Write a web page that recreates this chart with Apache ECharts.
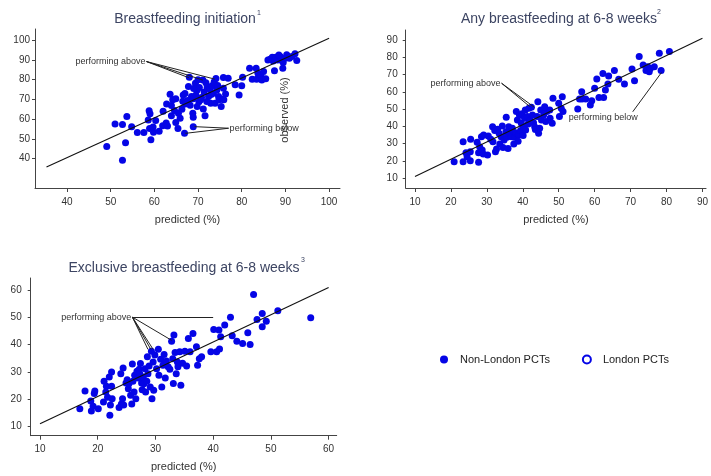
<!DOCTYPE html>
<html><head><meta charset="utf-8">
<script src="https://cdn.jsdelivr.net/npm/echarts@6/dist/echarts.min.js"></script>
<style>html,body{margin:0;padding:0;background:#fff}#c{width:711px;height:476px}</style>
</head><body><div id="c"></div>
<script>
// ---- data: [predicted, observed] ----
const initiationPoints = [[49.1,46.1],[51,57.6],[52.7,57.3],[52.7,39.2],[53.4,48.1],[53.7,61.3],[54.8,56.1],[56.1,53.2],[57.6,53.2],[58.6,59.6],[58.8,64.2],[59,62.7],[58.9,55.2],[59.2,49.5],[59.8,53.4],[59.7,56],[60.3,59.3],[61.1,53.9],[61.9,56.6],[62.7,58],[62.8,67.7],[63.6,72.6],[63.9,66.9],[63.9,61.7],[64.2,69.8],[64.6,64.4],[64.9,58.3],[64.9,70.3],[65.4,55.2],[65.9,60.5],[66.3,65],[66.5,69.1],[66.6,72.3],[66.9,52.9],[67.1,67.7],[67.6,69.4],[67.8,76.5],[68,81.2],[68.2,67.1],[68.5,71.5],[68.8,63],[68.9,61],[68.9,56.2],[68.9,70.3],[69.4,78.2],[69.5,72.3],[69.8,74.8],[69.8,66.4],[70.2,68.8],[70.3,76],[70.6,69.8],[71.1,79.9],[71.4,73.8],[71.6,61.7],[71.8,78.5],[72.1,76.2],[72.4,71.5],[72.7,75.2],[72.9,68.1],[73.2,76.9],[73.5,73.1],[73.7,79],[73.9,68.1],[74.1,80.6],[74.3,74.8],[74.7,71.5],[74.8,69.8],[75.3,66.4],[75.6,70.1],[75.8,75.7],[75.8,81.1],[75.9,69.8],[76.9,80.7],[78.5,77.4],[79.4,72.3],[80,76.9],[80.2,81.3],[81.8,85.8],[82.4,80.2],[83.3,85.8],[83.7,83.3],[83.4,80.2],[84.4,82.4],[84.6,79.9],[85,84.1],[86.5,90.4],[87,91.4],[87.2,89.5],[87.5,84.5],[87.8,91.4],[88.2,90],[88.8,91.7],[89.2,89.7],[89.4,85.8],[89.5,88.7],[89.9,90.9],[90.3,92.6],[90.9,90.9],[91.5,91.7],[92.2,93.1],[92.6,89.7],[86,90],[71.2,65.2],[72,69],[63,56.5],[65.5,63],[67,73],[70.8,71],[73,72.5],[74.5,77],[69,75.5],[70,80],[62,64],[88.5,92.5],[85.5,80.5],[76.3,72.7]];
const any68Points = [[20.9,19.6],[23.4,19.6],[23.4,31.2],[24.2,24.8],[24.5,22.5],[25.4,25.4],[25.4,20.2],[25.5,32.6],[27.3,30.8],[27.7,24.8],[27.7,19.3],[28,28.3],[28.5,34.1],[28.7,26.4],[29,24.1],[29.1,35.1],[30.2,23.5],[30.4,34.5],[31.6,39.9],[31.7,31.2],[32.2,37.6],[32.4,25.4],[32.7,27],[33,38.4],[33.4,36],[33.6,29.9],[34,34.1],[34.3,40.3],[34.5,27.9],[34.8,32.2],[35.3,37],[35.4,45.3],[35.6,33.7],[35.9,27.3],[36.1,39.9],[36.5,36],[36.8,34.1],[37.1,38.9],[37.5,29.9],[37.7,33.7],[38,36.4],[38.2,48.6],[38.5,43.7],[38.8,35.1],[39.1,46.5],[39.4,37.6],[39.6,41.8],[39.8,47.4],[40.1,34.7],[40.2,39.9],[40.5,44.7],[40.7,49.5],[40.8,38],[41.3,45.7],[41.5,41.4],[41.7,50.5],[42.1,43.7],[42.4,51.1],[42.7,46.6],[43,42.2],[43.3,39.9],[43.5,38.3],[44,45.7],[44.2,54.3],[44.4,36],[44.7,38.9],[45,49.5],[45.2,43.7],[45.8,46.6],[46.4,42.8],[46.7,48.6],[47.5,49.5],[47.6,44.7],[48.2,41.8],[48.4,56.3],[50,53.4],[50.2,45.7],[50.7,50.5],[51,57.2],[51.2,48.6],[55.3,50.1],[55.8,55.9],[56.4,60.1],[56.5,55.9],[57.5,55.9],[58.8,52.4],[59.2,54.9],[60,62.1],[60.6,67.4],[61.2,56.7],[62.3,70.7],[62.5,56.8],[63,61.1],[63.7,64.6],[63.9,69.2],[65.5,72.3],[66.7,67.3],[68.3,64.6],[70.4,73.2],[71.1,66.5],[72.4,80.4],[73.5,75.5],[74.3,72.3],[74.8,74.6],[75.2,71.7],[75.5,73.6],[76.6,74.6],[78,82.3],[78.5,72.3],[80.8,83.3],[31.1,32.6],[38.7,31.4],[46.1,51.4]];
const excl68Points = [[16.9,16.6],[17.8,23.1],[18.8,19.4],[18.9,15.7],[19.2,17.5],[19.4,22.1],[19.5,23.1],[20.1,16.6],[21,19],[21.1,26.6],[21.4,22.7],[21.5,24.8],[21.7,20.8],[22,28.2],[22.1,14.2],[22.2,17.9],[22.4,30],[22.4,24.8],[22.5,20.2],[23.7,17],[24,29.4],[24.1,18.3],[24.3,20.2],[24.4,31.5],[24.5,17.9],[24.9,26],[25.1,27.2],[25.3,23.9],[25.4,25.7],[25.7,21.5],[25.9,18.3],[26,32.9],[26.1,26.6],[26.3,22.7],[26.4,28.8],[26.6,20.2],[26.8,30.3],[27,27.8],[27.2,31],[27.3,29.4],[27.4,33.1],[27.6,26],[27.7,23.5],[27.9,28.2],[28,25.7],[28.2,31.2],[28.3,22.7],[28.5,26.6],[28.6,35.6],[28.7,29.4],[28.9,32.2],[29.1,24.5],[29.3,37.6],[29.4,20.2],[29.6,33.7],[29.7,23.3],[29.9,36.2],[30.2,31.2],[30.5,38.3],[30.6,28.8],[30.9,34.7],[31.1,24.5],[31.3,32.5],[31.5,36.4],[31.7,27.8],[31.9,34],[32.2,31.9],[32.5,31],[32.8,41.3],[33,34.9],[33.1,25.8],[33.2,43.5],[33.4,37.1],[33.6,29.4],[33.8,33.7],[33.9,31.9],[34.2,37.4],[34.4,25.2],[34.7,33.2],[35.1,37.6],[35.4,32.2],[35.7,42.3],[36,37.4],[36.5,44.1],[37.1,39.2],[37.3,32.5],[37.6,34.9],[38,35.6],[39.6,37.4],[40.1,45.6],[40.6,37.4],[41,45.4],[41.1,38.4],[41.3,42.9],[42,47.2],[43.3,43.3],[43,50],[44.1,41.3],[45.1,40.4],[46,44.4],[46.4,40.1],[47,58.4],[47.6,49.2],[48.5,51.4],[48.5,46.6],[49.2,48.6],[51.2,52.4],[56.9,49.9]];
const londonPoints = [];

// reference lines (observed = predicted)
const fitInitiation = [[35.3,35.8],[100,101]];
const fitAny68 = [[10,11],[90,91]];
const fitExcl68 = [[10,11.1],[60,60.9]];

// tick labels
const ticksInitiation = [40,50,60,70,80,90,100];
const ticksAny68 = [10,20,30,40,50,60,70,80,90];
const ticksExcl68 = [10,20,30,40,50,60];

// titles and labels
const panelTitles = ['Breastfeeding initiation','Any breastfeeding at 6-8 weeks','Exclusive breastfeeding at 6-8 weeks'];
const panelNotes = ['1','2','3'];
const xAxisTitle = 'predicted (%)';
const yAxisTitle = 'observed (%)';
const seriesNames = ['Non-London PCTs','London PCTs'];
const labelAbove = 'performing above';
const labelBelow = 'performing below';

// annotations (data coordinates)
const initAboveFrom = [58.2,89.2];
const initAboveTo = [[67.9,81.0],[71.1,79.8],[73.8,80.3]];
const initBelowFrom = [77,55.4];
const initBelowTo = [[69.2,56.2],[67.1,52.8]];
const anyAboveFrom = [34.1,65];
const anyAboveTo = [[41.9,51.6],[43.1,51.3]];
const anyBelowText = [52.5,45.3];
const anyBelowFrom = [70.6,48.5];
const anyBelowTo = [[78.6,71.2]];
const exclAboveFrom = [26,50.1];
const exclAboveTo = [[28.7,38.3],[29.2,38.3],[29.6,38.3],[32.8,41.6],[40,50.1]];

const BLUE = '#0505e6';
const AX = '#444';
const FONT = '"Liberation Sans", Arial, sans-serif';

function xAxisFor(gi, min, max, ticks){
  return {gridIndex:gi, type:'value', min:min, max:max,
    name:xAxisTitle, nameLocation:'middle', nameGap:26,
    nameTextStyle:{fontSize:11, color:'#333', fontFamily:FONT},
    axisLine:{show:true, onZero:false, lineStyle:{color:AX, width:1}},
    axisTick:{show:true, length:4, customValues:ticks, lineStyle:{color:AX}},
    axisLabel:{customValues:ticks, fontSize:10, color:'#333', margin:9, fontFamily:FONT},
    splitLine:{show:false}};
}
function yAxisFor(gi, min, max, ticks, margin){
  return {gridIndex:gi, type:'value', min:min, max:max,
    axisLine:{show:true, onZero:false, lineStyle:{color:AX, width:1}},
    axisTick:{show:true, length:3, customValues:ticks, lineStyle:{color:AX}},
    axisLabel:{customValues:ticks, fontSize:10, color:'#333', margin:margin, fontFamily:FONT},
    splitLine:{show:false}};
}
function segs(from, tos){ return tos.map(t => [{coord:from},{coord:t}]); }
function note(coord, text, pos){
  return {coord:coord, name:text, symbolSize:0, label:{show:true, position:pos, distance:1, formatter:'{b}', fontSize:9, color:'#333', fontFamily:FONT}};
}
function scatter(gi, pts){
  return {name:seriesNames[0], type:'scatter', xAxisIndex:gi, yAxisIndex:gi, data:pts,
    symbol:'circle', symbolSize:7, itemStyle:{color:BLUE, opacity:1}, z:2, animation:false};
}
function fitLine(gi, pts, lines, notes){
  return {type:'line', xAxisIndex:gi, yAxisIndex:gi, data:pts, showSymbol:false, silent:true,
    lineStyle:{color:'#111', width:1.1}, z:3, animation:false,
    markLine:{silent:true, symbol:['none','none'], label:{show:false}, animation:false,
      lineStyle:{color:'#222', width:1, type:'solid'}, data:lines},
    markPoint:{silent:true, symbol:'circle', symbolSize:0, animation:false, itemStyle:{color:'transparent'}, data:notes}};
}

const chart = echarts.init(document.getElementById('c'), null, {renderer:'canvas'});
chart.setOption({
  backgroundColor:'#fff',
  animation:false,
  grid:[
    {left:35, top:29, width:305, height:159},
    {left:405.7, top:30, width:301, height:158},
    {left:30.7, top:278, width:306, height:157.7}
  ],
  xAxis:[
    xAxisFor(0, 32.67, 102.5, ticksInitiation),
    xAxisFor(1, 7.42, 91.0, ticksAny68),
    xAxisFor(2, 8.39, 61.4, ticksExcl68)
  ],
  yAxis:[
    yAxisFor(0, 25.1, 105.7, ticksInitiation, 5),
    yAxisFor(1, 4.4, 95.8, ticksAny68, 8),
    yAxisFor(2, 6.7, 64.4, ticksExcl68, 9)
  ],
  legend:{left:435, top:349, itemWidth:8, itemHeight:8, itemGap:32,
    data:[{name:seriesNames[0], icon:'circle'},{name:seriesNames[1], icon:'emptyCircle'}],
    textStyle:{fontSize:11, color:'#222', fontFamily:FONT, padding:[0,0,0,7]}},
  series:[
    scatter(0, initiationPoints),
    scatter(1, any68Points),
    scatter(2, excl68Points),
    {name:seriesNames[1], type:'scatter', xAxisIndex:0, yAxisIndex:0, data:londonPoints,
      symbol:'emptyCircle', symbolSize:7, itemStyle:{color:BLUE, borderColor:BLUE, borderWidth:2, opacity:1}},
    fitLine(0, fitInitiation, segs(initAboveFrom, initAboveTo).concat(segs(initBelowFrom, initBelowTo)),
      [note(initAboveFrom, labelAbove, 'left'), note(initBelowFrom, labelBelow, 'right')]),
    fitLine(1, fitAny68, segs(anyAboveFrom, anyAboveTo).concat(segs(anyBelowFrom, anyBelowTo)),
      [note(anyAboveFrom, labelAbove, 'left'), note(anyBelowText, labelBelow, 'right')]),
    fitLine(2, fitExcl68, segs(exclAboveFrom, exclAboveTo),
      [note(exclAboveFrom, labelAbove, 'left')])
  ],
  graphic:[
    {type:'text', x:185, y:19, style:{text:panelTitles[0], fill:'#3d4563', font:'14px '+FONT, textAlign:'center', textVerticalAlign:'middle'}},
    {type:'text', x:259, y:13, style:{text:panelNotes[0], fill:'#3d4563', font:'7px '+FONT, textAlign:'center', textVerticalAlign:'middle'}},
    {type:'text', x:559, y:19, style:{text:panelTitles[1], fill:'#3d4563', font:'14px '+FONT, textAlign:'center', textVerticalAlign:'middle'}},
    {type:'text', x:659, y:12, style:{text:panelNotes[1], fill:'#3d4563', font:'7px '+FONT, textAlign:'center', textVerticalAlign:'middle'}},
    {type:'text', x:184, y:268, style:{text:panelTitles[2], fill:'#3d4563', font:'14px '+FONT, textAlign:'center', textVerticalAlign:'middle'}},
    {type:'text', x:303, y:260, style:{text:panelNotes[2], fill:'#3d4563', font:'7px '+FONT, textAlign:'center', textVerticalAlign:'middle'}},
    {type:'text', x:285, y:110, rotation:Math.PI/2, style:{text:yAxisTitle, fill:'#333', font:'11px '+FONT, textAlign:'center', textVerticalAlign:'middle'}}
  ]
});
</script></body></html>
